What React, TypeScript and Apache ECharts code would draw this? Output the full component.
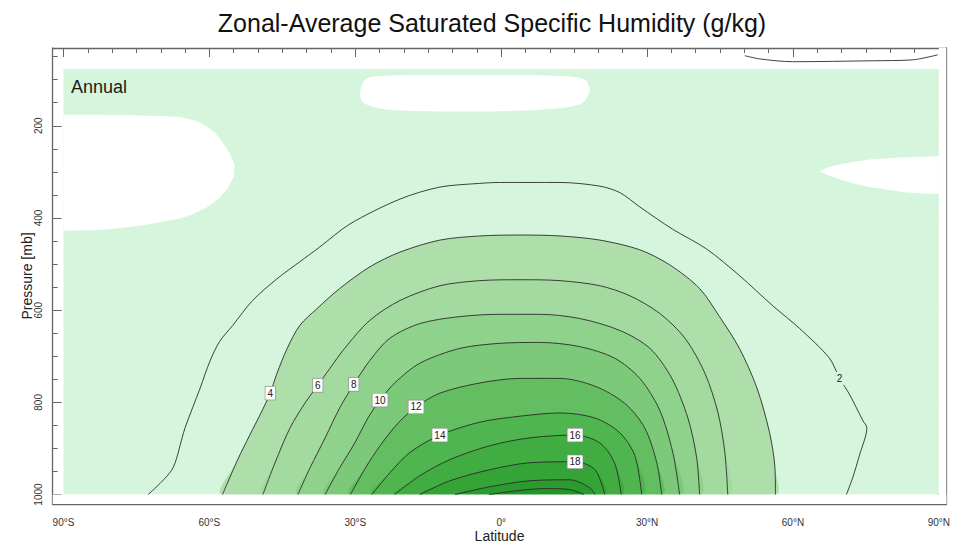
import React, { useEffect, useRef } from 'react';
import * as echarts from 'echarts';

// ---- axis ticks / labels ----
const LAT_TICKS = [-90, -60, -30, 0, 30, 60, 90];
const LAT_LABELS = ['90°S', '60°S', '30°S', '0°', '30°N', '60°N', '90°N'];
const P_TICKS = [200, 400, 600, 800, 1000];

// ---- data domain (lat, pressure mb) ----
const DOMAIN_LAT = [-90, 90];
const DOMAIN_P = [77, 1000];

// ---- white (very low value) regions ----
const WHITE_TOP: number[][] = [
  [-29.0, 133], [-28.0, 100], [-24.9, 92], [-10.5, 90], [12.1, 92], [17.2, 100],
  [18.2, 126], [16.1, 154], [7.9, 165], [-6.4, 169], [-22.9, 165], [-28.0, 152],
];
const WHITE_LEFT: number[][] = [
  [-90, 176], [-83, 176], [-76.3, 177], [-70, 179], [-66.0, 181], [-62.8, 189], [-60.9, 199],
  [-58.8, 215], [-57.4, 234], [-55.8, 260], [-54.8, 285], [-55.0, 310], [-56.2, 335],
  [-58.0, 357], [-60.5, 377], [-63.5, 392], [-66.0, 401], [-70.5, 410], [-74.3, 417],
  [-78.5, 422], [-82.5, 426], [-90, 428],
];
const WHITE_RIGHT: number[][] = [
  [65.5, 299], [67.0, 291], [69.6, 284], [72.5, 278], [75.8, 273], [82.0, 269], [90, 266],
  [90, 348], [86.5, 347], [83.0, 344], [79.5, 339], [75.8, 333], [72.5, 325], [69.6, 316], [67.2, 307],
];

// ---- contour lines (lat, pressure) ----
const C2: number[][] = [
  [-72.6, 1000], [-67.7, 946], [-65.6, 877], [-65.0, 855], [-61.9, 769], [-59.9, 711],
  [-57.9, 668], [-55.2, 633], [-51.1, 579], [-46.1, 532], [-41.4, 495], [-37.3, 463],
  [-31.1, 413], [-20.8, 359], [-12.6, 333], [-4.4, 325], [-0.3, 323], [12.1, 323],
  [20.3, 331], [24.4, 345], [28.5, 376], [35.2, 424], [42.2, 467], [49.0, 525], [55.8, 590],
  [61.4, 640], [67.5, 704], [69.6, 748], [71.7, 784], [74.4, 840], [75.2, 855],
  [73.7, 914], [72.3, 963], [71.0, 1000],
];
const C2_TOP: number[][] = [
  [50.1, 48], [53.2, 55], [59.9, 61], [76.4, 59], [84.6, 57], [89.8, 46],
];
const C4: number[][] = [
  [-57.3, 1000], [-54.3, 927], [-51.7, 871], [-49.2, 819], [-47.5, 780], [-46.1, 737],
  [-44.0, 683], [-41.4, 633], [-37.9, 597], [-33.2, 553], [-27.0, 506], [-20.8, 474],
  [-12.6, 448], [-4.4, 439], [3.9, 437], [12.1, 439], [20.3, 448], [28.5, 469],
  [34.7, 502], [40.8, 553], [44.9, 614], [49.0, 683], [52.6, 769], [55.2, 866],
  [56.3, 942], [56.4, 1000],
];
const C6: number[][] = [
  [-49.0, 1000], [-46.5, 931], [-43.4, 855], [-40.3, 801], [-37.7, 763], [-35.2, 726],
  [-32.2, 683], [-27.0, 622], [-20.8, 579], [-12.6, 547], [-4.4, 536], [3.9, 534],
  [12.1, 536], [20.3, 547], [26.5, 569], [32.6, 607], [37.8, 661], [41.9, 737],
  [44.6, 823], [46.0, 909], [46.6, 1000],
];
const C8: number[][] = [
  [-41.8, 1000], [-39.3, 942], [-36.2, 877], [-33.2, 812], [-30.3, 761], [-27.0, 709],
  [-22.9, 661], [-16.7, 629], [-8.5, 614], [-0.3, 609], [7.9, 609], [16.1, 618],
  [24.4, 644], [30.6, 683], [35.1, 748], [38.4, 834], [40.2, 920], [40.8, 1000],
];
const C10: number[][] = [
  [-36.2, 1000], [-33.2, 942], [-30.1, 888], [-27.4, 834], [-24.9, 795], [-21.9, 758],
  [-16.7, 715], [-8.5, 683], [-0.3, 672], [7.9, 670], [16.1, 679], [23.3, 704],
  [28.5, 748], [32.6, 817], [35.3, 909], [36.7, 1000],
];
const C12: number[][] = [
  [-31.0, 1000], [-27.9, 942], [-24.9, 894], [-21.2, 845], [-17.5, 810], [-12.6, 780],
  [-4.4, 758], [3.9, 748], [12.1, 748], [19.3, 765], [25.4, 802], [29.5, 855],
  [32.0, 931], [33.0, 1000],
];
const C14: number[][] = [
  [-26.6, 1000], [-22.9, 953], [-18.8, 909], [-12.6, 871], [-4.4, 843], [3.9, 830],
  [12.1, 823], [19.3, 834], [24.4, 866], [27.5, 916], [28.9, 1000],
];
const C16: number[][] = [
  [-21.9, 1000], [-16.7, 959], [-10.5, 924], [-2.3, 894], [5.9, 877], [15.2, 871],
  [20.3, 888], [23.3, 931], [24.7, 1000],
];
const C18: number[][] = [
  [-16.7, 1000], [-10.5, 970], [-2.3, 946], [5.9, 931], [15.2, 929], [19.3, 946], [21.3, 1000],
];
const C20: number[][] = [
  [-9.5, 1000], [-2.3, 983], [5.9, 970], [14.1, 968], [18.2, 985], [19.3, 1000],
];
const C22: number[][] = [
  [-2.5, 1000], [3.0, 992], [9.0, 987], [14.0, 989], [17.0, 1000],
];

const LINE_CONTOURS = [C2, C4, C6, C8, C10, C12, C14, C16, C18, C20, C22];
const LINE_LEVELS = [2, 4, 6, 8, 10, 12, 14, 16, 18, 20, 22];

const FILL_CONTOURS = [C4, C6, C8, C10, C12, C14, C16, C18, C20, C22];
const FILL_COLORS = ['#aedfaa', '#a3da9f', '#8fd28c', '#7cc97a', '#62be60', '#4fb54e', '#40ac41', '#35a437', '#2b9b2f', '#23942a'];
const BG_COLOR = '#d5f6dc';

// contour labels: lat, pressure, text
const LABEL_LAT = [69.6, -47.5, -37.7, -30.3, -24.9, -17.5, -12.6, 15.2, 15.2];
const LABEL_P = [748, 780, 763, 761, 795, 810, 871, 871, 929];
const LABEL_TEXT = ['2', '4', '6', '8', '10', '12', '14', '16', '18'];

const FONT = '"Liberation Sans", Arial, Helvetica, sans-serif';
const SMOOTH = 0.3;

function minorLat(): number[] {
  const out: number[] = [];
  for (let v = -90; v <= 90; v += 5) if (v % 30 !== 0) out.push(v);
  return out;
}
function minorP(): number[] {
  const out: number[] = [];
  for (let v = 50; v <= 1000; v += 50) if (v % 200 !== 0) out.push(v);
  return out;
}

export default function App() {
  const ref = useRef<HTMLDivElement>(null);
  useEffect(() => {
    if (!ref.current) return;
    const chart = echarts.init(ref.current, undefined, { renderer: 'svg' });

    const xMin = -92.22, xMax = 91.54, yMin = 31.3, yMax = 1020.5;

    const domainPts = [
      [DOMAIN_LAT[0], DOMAIN_P[0]], [DOMAIN_LAT[1], DOMAIN_P[0]],
      [DOMAIN_LAT[1], DOMAIN_P[1]], [DOMAIN_LAT[0], DOMAIN_P[1]],
    ];
    const bottomStrip = [
      [xMin, DOMAIN_P[1]], [xMax, DOMAIN_P[1]], [xMax, yMax], [xMin, yMax],
    ];
    const rightStrip = [
      [DOMAIN_LAT[1], yMin], [xMax, yMin], [xMax, yMax], [DOMAIN_LAT[1], yMax],
    ];
    const layers: { pts: number[][]; color: string; smooth: number }[] = [
      { pts: domainPts, color: BG_COLOR, smooth: 0 },
      { pts: WHITE_TOP, color: '#ffffff', smooth: SMOOTH },
      { pts: WHITE_LEFT, color: '#ffffff', smooth: 0 },
      { pts: WHITE_RIGHT, color: '#ffffff', smooth: 0 },
    ];
    FILL_CONTOURS.forEach((c, i) => layers.push({ pts: c, color: FILL_COLORS[i], smooth: SMOOTH }));
    layers.push({ pts: bottomStrip, color: '#ffffff', smooth: 0 });
    layers.push({ pts: rightStrip, color: '#ffffff', smooth: 0 });

    const frameColor = '#666';
    const labelStyle = { fontSize: 10, color: '#333', fontFamily: FONT };

    const mkX = (pos: 'top' | 'bottom', major: boolean, showLabel: boolean) => ({
      type: 'value', position: pos, min: xMin, max: xMax,
      axisLine: { show: major, onZero: false, lineStyle: { color: frameColor, width: 1.3 } },
      splitLine: { show: false },
      axisTick: {
        show: true, inside: true, length: major ? 9 : 5,
        customValues: major ? LAT_TICKS : minorLat(),
        lineStyle: { color: frameColor, width: 1 },
      },
      axisLabel: showLabel ? {
        show: true, customValues: LAT_TICKS, margin: 13, ...labelStyle,
        formatter: (v: number) => LAT_LABELS[LAT_TICKS.indexOf(Math.round(v))] ?? '',
      } : { show: false },
      ...(showLabel ? {
        name: 'Latitude', nameLocation: 'middle', nameGap: 25, nameMoveOverlap: false,
        nameTextStyle: { fontSize: 14, color: '#222', fontFamily: FONT },
      } : {}),
    });
    const mkY = (pos: 'left' | 'right', major: boolean, showLabel: boolean) => ({
      type: 'value', position: pos, inverse: true, min: yMin, max: yMax,
      axisLine: { show: major, onZero: false, lineStyle: { color: frameColor, width: 1.3 } },
      splitLine: { show: false },
      axisTick: {
        show: true, inside: true, length: major ? 9 : 5,
        customValues: major ? P_TICKS : minorP(),
        lineStyle: { color: frameColor, width: 1 },
      },
      axisLabel: showLabel ? {
        show: true, customValues: P_TICKS, margin: 9, rotate: 90, ...labelStyle,
        formatter: (v: number) => String(Math.round(v)),
      } : { show: false },
      ...(showLabel ? {
        name: 'Pressure [mb]', nameLocation: 'middle', nameGap: 19, nameMoveOverlap: false,
        nameTextStyle: { fontSize: 14, color: '#222', fontFamily: FONT },
      } : {}),
    });

    const lineSeries = LINE_CONTOURS.map((c, i) => ({
      type: 'line', name: 'contour ' + LINE_LEVELS[i], data: c,
      symbol: 'none', silent: true, z: 3, smooth: SMOOTH,
      lineStyle: { color: '#2b2b2b', width: 0.9 },
    }));

    const option: any = {
      animation: false,
      backgroundColor: '#ffffff',
      title: {
        text: 'Zonal-Average Saturated Specific Humidity (g/kg)',
        left: 487, top: 5, textAlign: 'center',
        textStyle: { fontSize: 25, fontWeight: 'normal', color: '#111', fontFamily: FONT },
      },
      grid: { left: 52.7, right: 6.5, top: 48, bottom: 41.5, containLabel: false },
      xAxis: [mkX('bottom', true, true), mkX('bottom', false, false), mkX('top', true, false), mkX('top', false, false)],
      yAxis: [mkY('left', true, true), mkY('left', false, false), mkY('right', true, false), mkY('right', false, false)],
      series: [
        {
          type: 'custom', name: 'fills', silent: true, z: 1,
          data: layers.map((_, i) => [i]),
          encode: { x: -1, y: -1 },
          renderItem: (params: any, api: any) => {
            const layer = layers[params.dataIndex];
            return {
              type: 'polygon',
              shape: { points: layer.pts.map((p) => api.coord(p)), smooth: layer.smooth },
              style: { fill: layer.color, stroke: 'none' },
            };
          },
        },
        ...lineSeries,
        {
          type: 'line', name: 'contour 2 (top)', data: C2_TOP, symbol: 'none', silent: true, z: 3,
          smooth: SMOOTH, lineStyle: { color: '#2b2b2b', width: 0.9 },
        },
        {
          type: 'custom', name: 'contour labels', silent: true, z: 5,
          data: LABEL_TEXT.map((_, i) => [LABEL_LAT[i], LABEL_P[i]]),
          renderItem: (params: any, api: any) => {
            const i = params.dataIndex;
            const pt = api.coord([LABEL_LAT[i], LABEL_P[i]]);
            const plain = LABEL_TEXT[i] === '2';
            return {
              type: 'text', x: pt[0], y: pt[1],
              style: {
                text: LABEL_TEXT[i], fontSize: 10, fontFamily: FONT, fill: '#222',
                align: 'center', verticalAlign: 'middle',
                backgroundColor: plain ? BG_COLOR : '#ffffff',
                borderColor: plain ? 'transparent' : '#888', borderWidth: plain ? 0 : 0.6,
                padding: [2, 2, 1, 2],
              },
            };
          },
        },
      ],
      graphic: [
        {
          type: 'text', left: 71, top: 78, silent: true, z: 10,
          style: { text: 'Annual', fontSize: 18, fill: '#1a1a1a', fontFamily: FONT },
        },
      ],
    };
    chart.setOption(option);
    return () => chart.dispose();
  }, []);
  return <div ref={ref} style={{ position: 'fixed', left: 0, top: 0, width: 953, height: 548 }} />;
}
